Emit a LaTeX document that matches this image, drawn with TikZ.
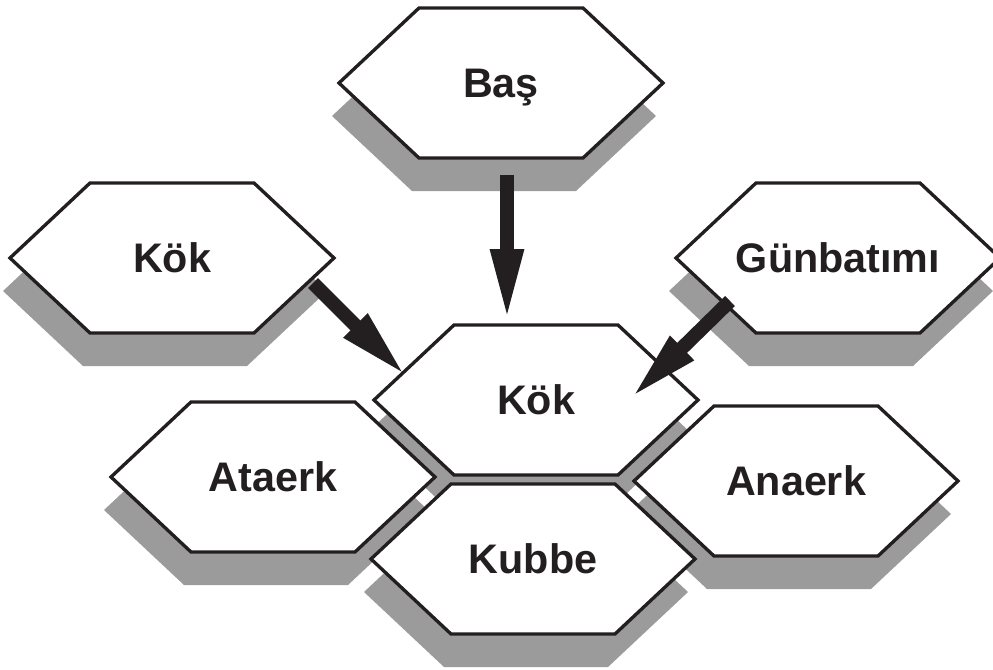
\documentclass[tikz,border=0pt]{standalone}
\usepackage{fontspec}
\setmainfont{Liberation Sans}
\usetikzlibrary{arrows.meta,backgrounds}

\definecolor{ink}{RGB}{35,31,32}
\definecolor{shadowgray}{RGB}{155,155,155}

\begin{document}
\begin{tikzpicture}[
        x=0.02cm, y=-0.02cm,
        word/.style={inner sep=0pt, text height=16.8pt, text depth=0pt, font=\fontsize{23.5}{27}\selectfont\bfseries, text=ink},
        hexline/.style={draw=ink, line width=1.9pt, fill=white, line join=miter},
        hexshade/.style={fill=shadowgray},
        bigarrow/.style={-{Triangle[length=1.46cm, width=0.6cm]}, line width=0.28cm, draw=ink}
    ]
    \useasboundingbox (0,0) rectangle (993,669);

    % Labels at the hexagon centres
    \node[word] (bas) at (501,83) {Baş};
    \node[word] (kokLeft) at (172,258) {Kök};
    \node[word] (gun) at (838,258) {Günbatımı};
    \node[word] (kokMid) at (536,400) {Kök};
    \node[word] (ataerk) at (273,477) {Ataerk};
    \node[word] (anaerk) at (796,481) {Anaerk};
    \node[word] (kubbe) at (533,559) {Kubbe};

    % Hexagons and their shadows
    \begin{scope}[on background layer]
        \foreach \n in {bas,kokLeft,gun,kokMid,ataerk,anaerk,kubbe}
            \fill[hexshade] ([shift={(-7,33)}]\n.center) +(-162,0) -- +(-82,-75) -- +(82,-75) -- +(162,0) -- +(82,75) -- +(-82,75) -- cycle;
        \foreach \n in {bas,kokLeft,gun,kokMid,ataerk,anaerk,kubbe}
            \draw[hexline] (\n.center) +(-162,0) -- +(-82,-75) -- +(82,-75) -- +(162,0) -- +(82,75) -- +(-82,75) -- cycle;
    \end{scope}

    % Arrows
    \draw[bigarrow] ([shift={(6,92)}]bas.center) -- ([shift={(-29,-78)}]kokMid.center);
    \draw[bigarrow] ([shift={(141,25)}]kokLeft.center) -- ([shift={(-129,-23)}]kokMid.center);
    \draw[bigarrow] ([shift={(-108,43)}]gun.center) -- ([shift={(94,-1)}]kokMid.center);

\end{tikzpicture}
\end{document}
